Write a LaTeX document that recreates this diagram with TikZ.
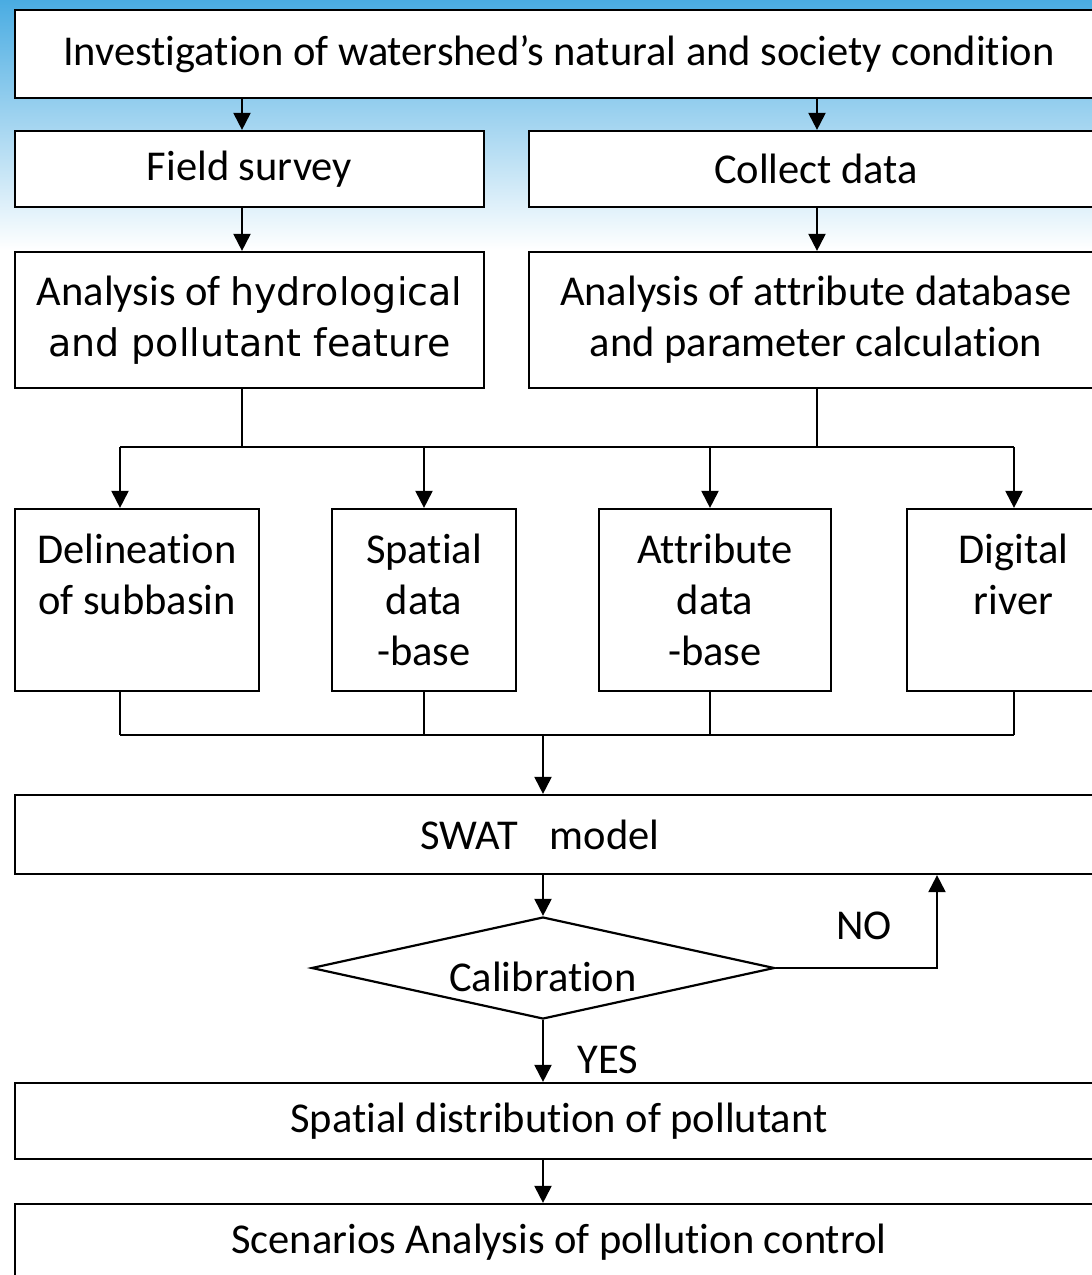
\documentclass[tikz,border=0pt]{standalone}
\usepackage{fontspec}
\setmainfont{Carlito}[Ligatures=NoCommon]
\newfontfamily\hydfont{DejaVu Sans}
\usetikzlibrary{shapes.geometric,arrows.meta}

\definecolor{skyblue}{RGB}{74,172,226}

\tikzset{
  box/.style = {draw, fill=white, line width=2.2pt, inner sep=0pt, align=center,
                font=\fontsize{42.5}{51}\selectfont},
  decision/.style = {box, diamond, aspect=4.5},
  flow/.style = {line width=2pt, -{Triangle[width=17pt,length=17pt]}},
  link/.style = {line width=2pt},
  tag/.style = {font=\fontsize{42.5}{51}\selectfont}
}

\begin{document}
\begin{tikzpicture}[x=1pt,y=-1pt]
   \clip (0,0) rectangle (1092,1275);
   \shade[top color=skyblue, bottom color=white] (0,0) rectangle (1092,250);
   \fill[white] (0,250) rectangle (1092,1275);

   \node[box, minimum width=1088, minimum height=88]  (inv)     at (559,54)   {Investigation of watershed's natural and society condition};
   \node[box, minimum width=469,  minimum height=76]  (field)   at (249.5,169) {Field survey};
   \node[box, minimum width=574,  minimum height=76]  (collect) at (816,169)  {Collect data};
   \node[box, minimum width=469,  minimum height=136] (anhyd)   at (249.5,320) {Analysis of {\hydfont\fontsize{38}{51}\selectfont hydrological}\\{\hydfont\fontsize{38}{51}\selectfont and pollutant feature}};
   \node[box, minimum width=574,  minimum height=136] (anattr)  at (816,320)  {Analysis of attribute database\\and parameter calculation};
   \node[box, minimum width=244,  minimum height=182] (delin)   at (137,600)  {Delineation\\of subbasin\\\phantom{-base}};
   \node[box, minimum width=184,  minimum height=182] (spat)    at (424,600)  {Spatial\\data\\-base};
   \node[box, minimum width=232,  minimum height=182] (attr)    at (715,600)  {Attribute\\data\\-base};
   \node[box, minimum width=213,  minimum height=182] (digit)   at (1013.5,600) {Digital\\river\\\phantom{-base}};
   \node[box, minimum width=1088, minimum height=79]  (swat)    at (559,834.5) {SWAT\hspace{0.75em}model\hspace{38pt}};
   \node[decision, minimum width=463, minimum height=102] (cal) at (543,968) {\smash{\raisebox{-23pt}{Calibration}}};
   \node[box, minimum width=1088, minimum height=76]  (spd)     at (559,1121) {Spatial distribution of pollutant};
   \node[box, minimum width=1088, minimum height=76]  (scen)    at (559,1242) {Scenarios Analysis of pollution control};
   \node[tag] (no)  at (864,926)  {NO};
   \node[tag] (yes) at (608,1060) {YES};

   \coordinate (lft) at (242,0);
   \coordinate (rgt) at (817,0);
   \coordinate (k1) at (120,447);
   \coordinate (k2) at (424,447);
   \coordinate (k3) at (710,447);
   \coordinate (k4) at (1014,447);
   \coordinate (m1) at (120,735);
   \coordinate (m4) at (1014,735);
   \coordinate (mid) at (543,735);
   \coordinate (ret) at (937,0);

   \draw[flow] (inv.south -| lft) -- (field.north -| lft);
   \draw[flow] (inv.south -| rgt) -- (collect.north -| rgt);
   \draw[flow] (field.south -| lft) -- (anhyd.north -| lft);
   \draw[flow] (collect.south -| rgt) -- (anattr.north -| rgt);
   \draw[link] (anhyd.south -| lft) -- (k1 -| lft);
   \draw[link] (anattr.south -| rgt) -- (k1 -| rgt);
   \draw[link] (k1) -- (k4);
   \draw[flow] (k1) -- (delin.north -| k1);
   \draw[flow] (k2) -- (spat.north -| k2);
   \draw[flow] (k3) -- (attr.north -| k3);
   \draw[flow] (k4) -- (digit.north -| k4);
   \draw[link] (delin.south -| m1) -- (m1);
   \draw[link] (spat.south) -- (spat.south |- m1);
   \draw[link] (attr.south -| k3) -- (k3 |- m1);
   \draw[link] (digit.south -| m4) -- (m4);
   \draw[link] (m1) -- (m4);
   \draw[flow] (mid) -- (swat.north -| mid);
   \draw[flow] (swat.south -| mid) -- (cal.north);
   \draw[flow] (cal.east) -- (ret |- cal.east) -- (swat.south -| ret);
   \draw[flow] (cal.south) -- (spd.north -| cal.south);
   \draw[flow] (spd.south -| mid) -- (scen.north -| mid);
\end{tikzpicture}
\end{document}
